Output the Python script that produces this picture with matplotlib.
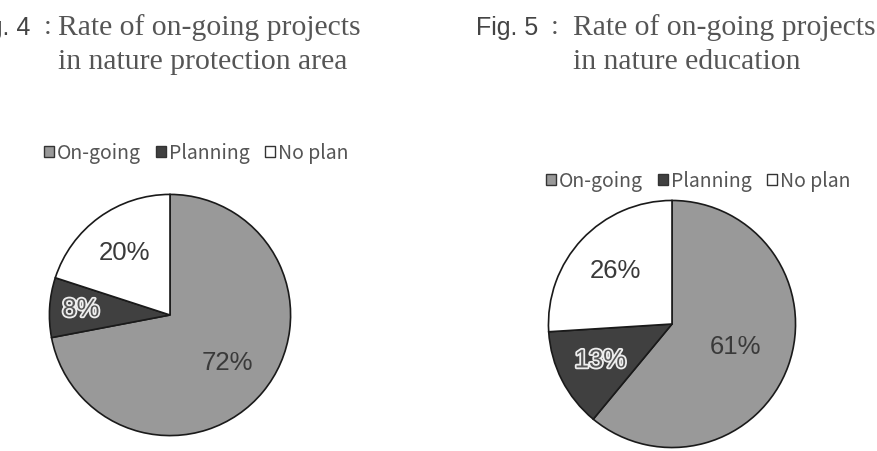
import matplotlib
matplotlib.use("Agg")
import matplotlib.pyplot as plt
from matplotlib.patches import Patch
import matplotlib.patheffects as pe
import numpy as np

categories = ["On-going", "Planning", "No plan"]
fig4_values = [72, 8, 20]
fig5_values = [61, 13, 26]
colors = ["#999999", "#404040", "#ffffff"]
fig4_title = ["Fig. 4", "Rate of on-going projects", "in nature protection area"]
fig5_title = ["Fig. 5", "Rate of on-going projects", "in nature education"]

W, H = 878, 451
fig = plt.figure(figsize=(W / 100, H / 100), dpi=100)
fig.patch.set_facecolor("white")


def px_axes(cx, cy, r):
    return fig.add_axes([(cx - r) / W, (H - cy - r) / H, 2 * r / W, 2 * r / H])


def draw_pie(ax, values, dists, outlined):
    wedges, _ = ax.pie(values, colors=colors, startangle=90, counterclock=False,
                       radius=1.0,
                       wedgeprops=dict(edgecolor="#1a1a1a", linewidth=1.2))
    for w, v, d, o in zip(wedges, values, dists, outlined):
        mid = np.deg2rad((w.theta1 + w.theta2) / 2)
        x, y = d * np.cos(mid), d * np.sin(mid)
        if o:
            ax.text(x, y, f"{v}%", ha="center", va="center", fontsize=18.5,
                    family="Liberation Sans", color="#555555",
                    path_effects=[pe.withStroke(linewidth=2.6, foreground="#eeeeee")])
        else:
            ax.text(x, y, f"{v}%", ha="center", va="center", fontsize=18.5,
                    family="Liberation Sans", color="#3a3a3a")
    ax.set_xlim(-1.02, 1.02)
    ax.set_ylim(-1.02, 1.02)
    ax.set_aspect("equal")
    ax.axis("off")


ax1 = px_axes(170, 315, 123)
draw_pie(ax1, fig4_values, [0.62, 0.74, 0.64], [False, True, False])
ax2 = px_axes(672, 324, 126)
draw_pie(ax2, fig5_values, [0.55, 0.65, 0.63], [False, True, False])

handles = [Patch(facecolor=c, edgecolor="#333333", linewidth=1.0) for c in colors]
for (cx, cy) in [(196, 153), (698, 181)]:
    fig.legend(handles, categories, loc="center", bbox_to_anchor=(cx / W, 1 - cy / H),
               ncol=3, frameon=False, handlelength=0.5, handleheight=0.5,
               handletextpad=0.15, columnspacing=0.8, borderpad=0,
               prop=dict(family="Noto Sans CJK JP", size=14), labelcolor="#555555")


def title(t, fig_x_right, colon_x, text_x):
    fig.text(fig_x_right / W, 1 - 28 / H, t[0], ha="right", va="center",
             family="Liberation Sans", fontsize=18, color="#444444")
    fig.text(colon_x / W, 1 - 28 / H, ":", ha="center", va="center",
             family="Liberation Serif", fontsize=20, color="#555555")
    fig.text(text_x / W, 1 - 28 / H, t[1], ha="left", va="center",
             family="Liberation Serif", fontsize=21.3, color="#555555")
    fig.text(text_x / W, 1 - 62 / H, t[2], ha="left", va="center",
             family="Liberation Serif", fontsize=21.3, color="#555555")


title(fig4_title, 30, 48, 58)
title(fig5_title, 538, 555, 573)

fig.savefig("out.png", dpi=100, facecolor="white")
